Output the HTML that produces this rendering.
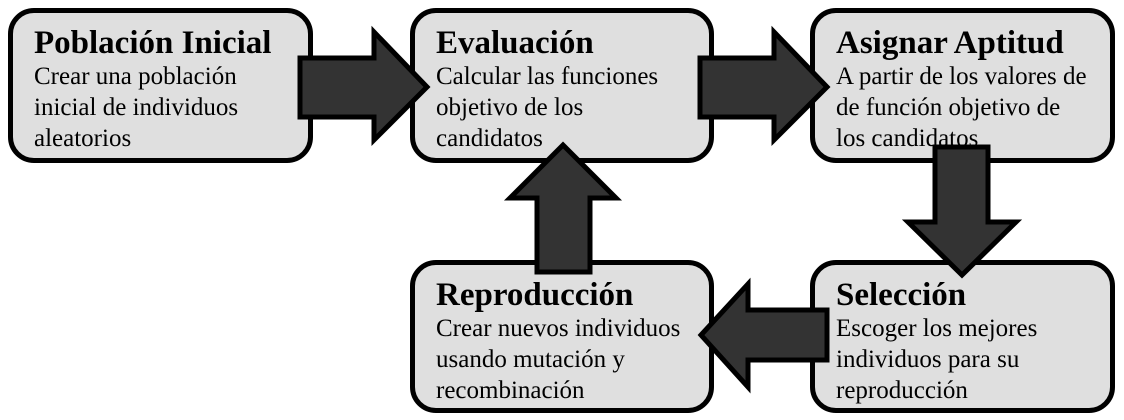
<!DOCTYPE html>
<html><head><meta charset="utf-8"><style>
body{margin:0;background:#fff;width:1124px;height:420px;overflow:hidden;position:relative;font-family:"Liberation Serif",serif}
.b{position:absolute;background:#dfdfdf;border:5px solid #000;border-radius:26px;box-sizing:border-box;padding:13px 0 0 21px;white-space:nowrap}
.t{font-weight:bold;font-size:33px;line-height:34px}
.d{font-size:25px;line-height:31px;margin-top:1px}
svg{position:absolute;left:0;top:0}
</style></head><body>
<div class="b" style="left:8px;top:8px;width:305px;height:155px"><div class="t">Población Inicial</div><div class="d">Crear una población<br>inicial de individuos<br>aleatorios</div></div>
<div class="b" style="left:410px;top:8px;width:304px;height:155px"><div class="t">Evaluación</div><div class="d">Calcular las funciones<br>objetivo de los<br>candidatos</div></div>
<div class="b" style="left:810px;top:8px;width:305px;height:155px"><div class="t">Asignar Aptitud</div><div class="d">A partir de los valores de<br>de función objetivo de<br>los candidatos</div></div>
<div class="b" style="left:410px;top:260px;width:304px;height:153px"><div class="t">Reproducción</div><div class="d">Crear nuevos individuos<br>usando mutación y<br>recombinación</div></div>
<div class="b" style="left:810px;top:260px;width:305px;height:153px"><div class="t">Selección</div><div class="d">Escoger los mejores<br>individuos para su<br>reproducción</div></div>
<svg width="1124" height="420"><g fill="#333" stroke="#000" stroke-width="5" stroke-linejoin="miter">
<polygon points="300,58 374,58 374,32 427,87 374,140 374,117 300,117"/>
<polygon points="700,58 774,58 774,32 827,87 774,140 774,117 700,117"/>
<polygon points="935,147 988,147 988,222 1016,222 962,275 908,222 935,222"/>
<polygon points="827,310 748,310 748,284 701,335 748,387 748,360 827,360"/>
<polygon points="537,272 590,272 590,198 616,198 563,145 510,198 537,198"/>
</g></svg>
</body></html>
